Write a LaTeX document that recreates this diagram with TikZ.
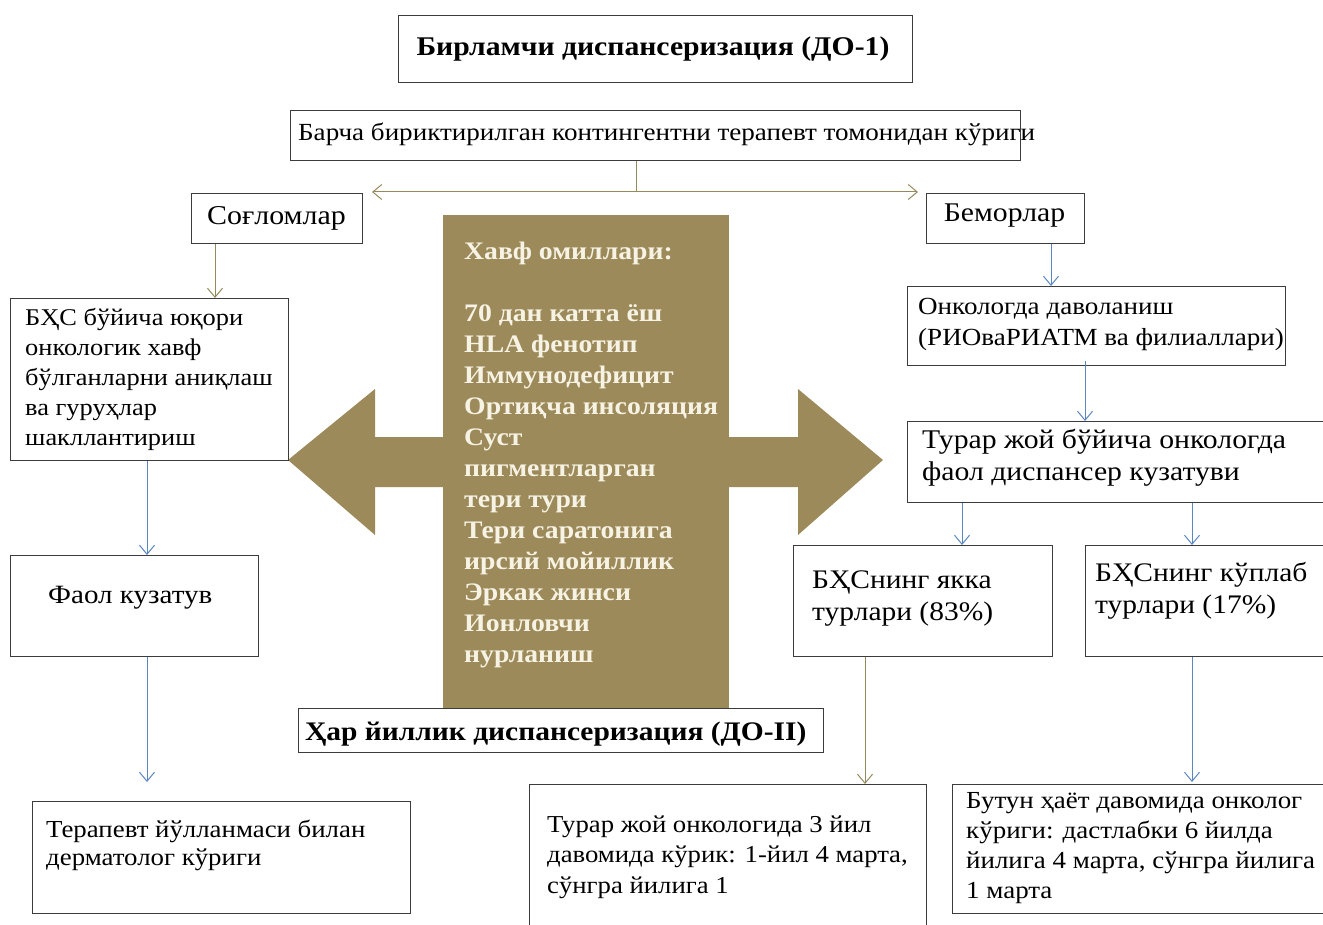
\documentclass[tikz,border=0pt]{standalone}
\usepackage{fontspec}
\setmainfont{Liberation Serif}[FakeStretch=1.1]
\usetikzlibrary{arrows.meta}
\definecolor{boxline}{HTML}{3C3C3C}
\definecolor{brownfill}{HTML}{9C8A5A}
\definecolor{tanline}{HTML}{958A5E}
\definecolor{blueline}{HTML}{5B86BF}
\definecolor{cream}{HTML}{F7F3E4}
\newcommand{\fs}[2]{\fontsize{#1}{#2}\selectfont}
\tikzset{
  box/.style={draw=boxline, line width=1.4pt, fill=white, inner sep=0pt, anchor=north west},
  txt/.style={inner sep=0pt, anchor=base west, align=left},
  bold/.style={inner sep=0pt},
  tan/.style={draw=tanline, line width=1pt, -{Straight Barb[length=9pt,width=15pt]}},
  blu/.style={draw=blueline, line width=1pt, -{Straight Barb[length=9pt,width=15pt]}},
  risk/.style={text=cream, inner sep=0pt, anchor=base west, align=left}
}
\begin{document}
\begin{tikzpicture}[x=1pt,y=-1pt]
\useasboundingbox (0,0) rectangle (1323,925);
% top title
\node[box, minimum width=514pt, minimum height=67pt] (top) at (398,15) {};
\node[bold, anchor=base, font=\bfseries\fs{27}{32}] (toptxt) at (653,56) {Бирламчи диспансеризация (ДО-1)};
% all contingent
\node[box, minimum width=730pt, minimum height=50pt] (all) at (290,110) {};
\node[txt, font=\fs{24.6}{30}] (alltxt) at (298,141) {Барча бириктирилган контингентни терапевт томонидан кўриги};
% split
\coordinate (split) at (636,192);
\coordinate (leftend) at (372,192);
\coordinate (rightend) at (918,192);
\draw[draw=tanline, line width=1pt] (all.south -| split) -- (split);
\draw[tan] (split) -- (leftend);
\draw[tan] (split) -- (rightend);
% healthy / sick
\node[box, minimum width=171pt, minimum height=50pt] (healthy) at (191,193) {};
\node[txt, anchor=base, font=\fs{27.2}{32}] (healthytxt) at (276.5,225) {Соғломлар};
\node[box, minimum width=158pt, minimum height=50pt] (sick) at (926,193) {};
\node[txt, anchor=base, font=\fs{27}{32}] (sicktxt) at (1004.5,222) {Беморлар};
% big double arrow
\fill[brownfill] (288,460) -- (375,389) -- (375,437) -- (798,437) -- (798,389) -- (883,460) -- (798,535) -- (798,487) -- (375,487) -- (375,535) -- cycle;
\node[fill=brownfill, inner sep=0pt, minimum width=286pt, minimum height=493pt, anchor=north west] (risk) at (443,215) {};
\node[risk, font=\bfseries\fs{25.2}{31}] (risktxt) at (464,662) {Хавф омиллари:\\[31pt]70 дан катта ёш\\HLA фенотип\\Иммунодефицит\\Ортиқча инсоляция\\Суст\\пигментларган\\тери тури\\Тери саратонига\\ирсий мойиллик\\Эркак жинси\\Ионловчи\\нурланиш};
% left column
\node[box, minimum width=278pt, minimum height=162pt] (bhs) at (10,298) {};
\node[txt, font=\fs{24}{30}] (bhstxt) at (25,445) {БҲС бўйича юқори\\онкологик хавф\\бўлганларни аниқлаш\\ва гуруҳлар\\шакллантириш};
\node[box, minimum width=248pt, minimum height=101pt] (faol) at (10,555) {};
\node[txt, font=\fs{26.4}{30}] (faoltxt) at (48,603) {Фаол кузатув};
\node[box, minimum width=378pt, minimum height=112pt] (derm) at (32,801) {};
\node[txt, font=\fs{24.4}{28}] (dermtxt) at (46,865) {Терапевт йўлланмаси билан\\дерматолог кўриги};
\draw[tan] (healthy.south -| 215,0) -- (bhs.north -| 215,0);
\draw[blu] (bhs.south -| 147,0) -- (faol.north -| 147,0);
\coordinate (dermin) at (147,782);
\draw[blu] (faol.south -| dermin) -- (dermin);
% annual
\node[box, minimum width=525pt, minimum height=44pt] (annual) at (298,708) {};
\node[bold, anchor=base west, font=\bfseries\fs{26.8}{30}] (annualtxt) at (305,740) {Ҳар йиллик диспансеризация (ДО-II)};
% right column
\node[box, minimum width=378pt, minimum height=79pt] (onko) at (907,286) {};
\node[txt, font=\fs{24.6}{32}] (onkotxt) at (918,346) {Онкологда даволаниш\\(РИОваРИАТМ ва филиаллари)};
\node[box, minimum width=430pt, minimum height=81pt] (turar) at (907,421) {};
\node[txt, font=\fs{27}{32}] (turartxt) at (922,480) {Турар жой бўйича онкологда\\фаол диспансер кузатуви};
\node[box, minimum width=259pt, minimum height=111pt] (yakka) at (793,545) {};
\node[txt, font=\fs{26.8}{32}] (yakkatxt) at (812,620) {БҲСнинг якка\\турлари (83\%)};
\node[box, minimum width=250pt, minimum height=111pt] (kuplab) at (1085,545) {};
\node[txt, font=\fs{26.8}{32}] (kuplabtxt) at (1095,613) {БҲСнинг кўплаб\\турлари (17\%)};
\node[box, minimum width=397pt, minimum height=160pt] (three) at (529,784) {};
\node[txt, font=\fs{24.3}{30.5}] (threetxt) at (547,893) {Турар жой онкологида 3 йил\\давомида кўрик: 1-йил 4 марта,\\сўнгра йилига 1};
\node[box, minimum width=380pt, minimum height=129pt] (life) at (952,784) {};
\node[txt, font=\fs{24.5}{30}] (lifetxt) at (966,898) {Бутун ҳаёт давомида онколог\\кўриги: дастлабки 6 йилда\\йилига 4 марта, сўнгра йилига\\1 марта};
\draw[blu] (sick.south -| 1051,0) -- (onko.north -| 1051,0);
\draw[blu] ([yshift=5pt]onko.south -| 1085,0) -- (turar.north -| 1085,0);
\draw[blu] (turar.south -| 962,0) -- (yakka.north -| 962,0);
\draw[blu] (turar.south -| 1192,0) -- (kuplab.north -| 1192,0);
\draw[tan] (yakka.south -| 865,0) -- (three.north -| 865,0);
\coordinate (lifein) at (1192,782);
\draw[blu] (kuplab.south -| lifein) -- (lifein);
\end{tikzpicture}
\end{document}
